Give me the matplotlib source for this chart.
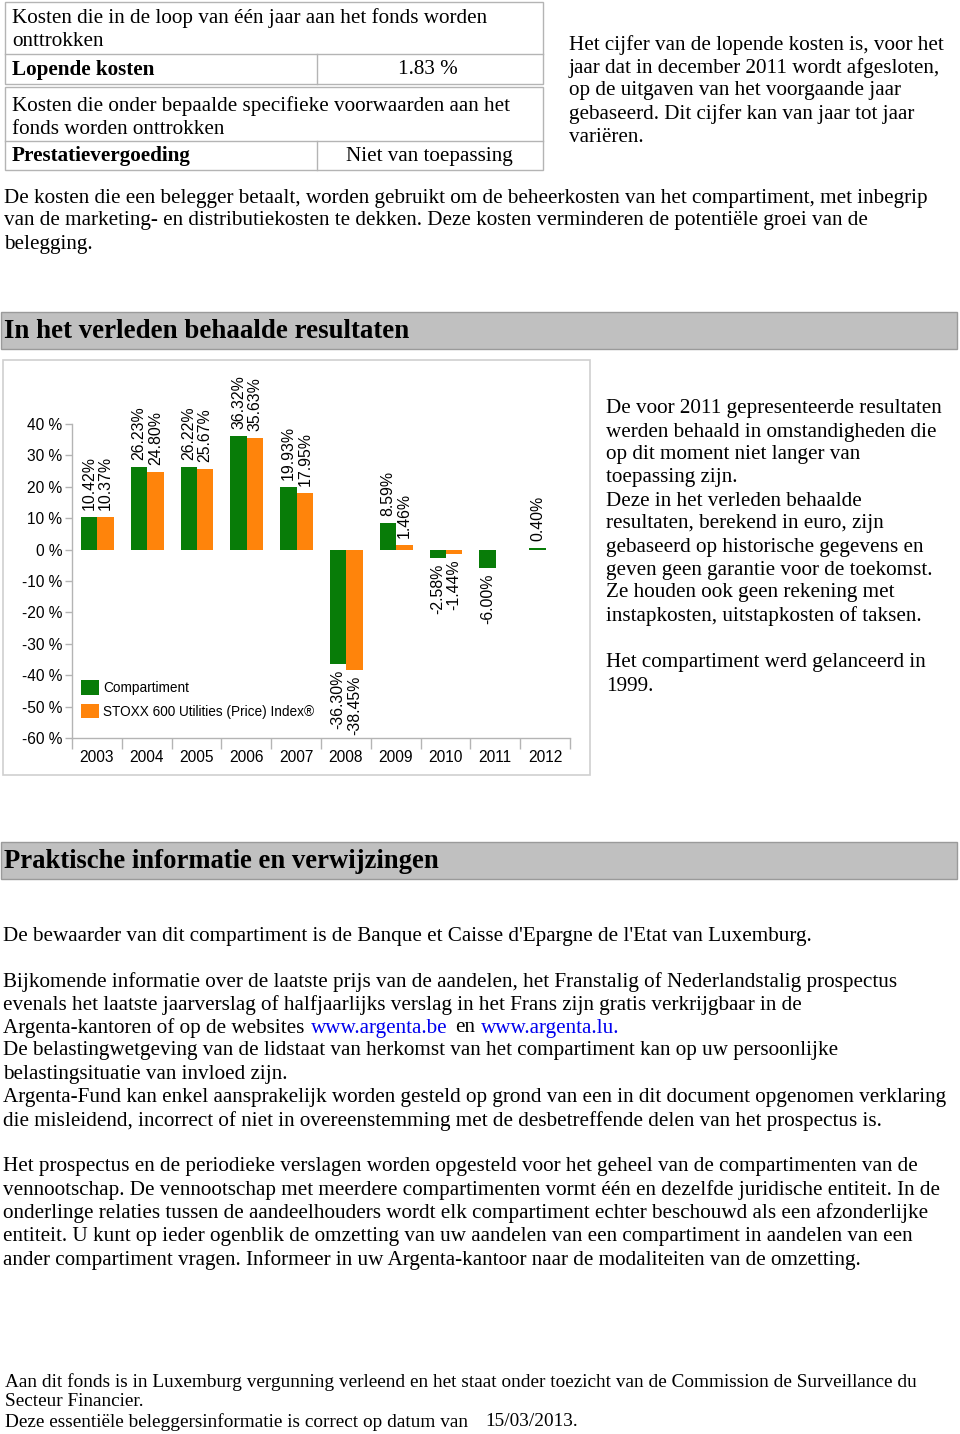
import numpy as np
import matplotlib
matplotlib.use("Agg")
import matplotlib.pyplot as plt
from matplotlib.patches import Rectangle
from matplotlib.lines import Line2D

# ---------------- data ----------------
years = ["2003", "2004", "2005", "2006", "2007", "2008", "2009", "2010", "2011", "2012"]
compartiment = [10.42, 26.23, 26.22, 36.32, 19.93, -36.30, 8.59, -2.58, -6.00, 0.40]
index_vals = [10.37, 24.80, 25.67, 35.63, 17.95, -38.45, 1.46, -1.44, np.nan, np.nan]
series_names = ["Compartiment", "STOXX 600 Utilities (Price) Index®"]
y_ticks = [40, 30, 20, 10, 0, -10, -20, -30, -40, -50, -60]

table_row1 = ["Kosten die in de loop van één jaar aan het fonds worden", "onttrokken"]
table_row2 = ["Lopende kosten", "1.83 %"]
table_row3 = ["Kosten die onder bepaalde specifieke voorwaarden aan het", "fonds worden onttrokken"]
table_row4 = ["Prestatievergoeding", "Niet van toepassing"]
side_note = ["Het cijfer van de lopende kosten is, voor het",
             "jaar dat in december 2011 wordt afgesloten,",
             "op de uitgaven van het voorgaande jaar",
             "gebaseerd. Dit cijfer kan van jaar tot jaar",
             "variëren."]
cost_text = ["De kosten die een belegger betaalt, worden gebruikt om de beheerkosten van het compartiment, met inbegrip",
             "van de marketing- en distributiekosten te dekken. Deze kosten verminderen de potentiële groei van de",
             "belegging."]
heading1 = "In het verleden behaalde resultaten"
heading2 = "Praktische informatie en verwijzingen"
chart_note = ["De voor 2011 gepresenteerde resultaten",
              "werden behaald in omstandigheden die",
              "op dit moment niet langer van",
              "toepassing zijn.",
              "Deze in het verleden behaalde",
              "resultaten, berekend in euro, zijn",
              "gebaseerd op historische gegevens en",
              "geven geen garantie voor de toekomst.",
              "Ze houden ook geen rekening met",
              "instapkosten, uitstapkosten of taksen."]
chart_note2 = ["Het compartiment werd gelanceerd in", "1999."]
practical1 = ["De bewaarder van dit compartiment is de Banque et Caisse d'Epargne de l'Etat van Luxemburg."]
practical2 = ["Bijkomende informatie over de laatste prijs van de aandelen, het Franstalig of Nederlandstalig prospectus",
              "evenals het laatste jaarverslag of halfjaarlijks verslag in het Frans zijn gratis verkrijgbaar in de"]
practical2_link = ["Argenta-kantoren of op de websites", "www.argenta.be", "en", "www.argenta.lu."]
practical3 = ["De belastingwetgeving van de lidstaat van herkomst van het compartiment kan op uw persoonlijke",
              "belastingsituatie van invloed zijn.",
              "Argenta-Fund kan enkel aansprakelijk worden gesteld op grond van een in dit document opgenomen verklaring",
              "die misleidend, incorrect of niet in overeenstemming met de desbetreffende delen van het prospectus is."]
practical4 = ["Het prospectus en de periodieke verslagen worden opgesteld voor het geheel van de compartimenten van de",
              "vennootschap. De vennootschap met meerdere compartimenten vormt één en dezelfde juridische entiteit. In de",
              "onderlinge relaties tussen de aandeelhouders wordt elk compartiment echter beschouwd als een afzonderlijke",
              "entiteit. U kunt op ieder ogenblik de omzetting van uw aandelen van een compartiment in aandelen van een",
              "ander compartiment vragen. Informeer in uw Argenta-kantoor naar de modaliteiten van de omzetting."]
footer = ["Aan dit fonds is in Luxemburg vergunning verleend en het staat onder toezicht van de Commission de Surveillance du",
          "Secteur Financier."]
footer_date = ["Deze essentiële beleggersinformatie is correct op datum van", "15/03/2013."]

# ---------------- figure ----------------
W, H = 960, 1434
fig = plt.figure(figsize=(W / 100, H / 100), dpi=100)
fig.patch.set_facecolor("white")

SERIF = "Liberation Serif"
SANS = "Liberation Sans"
BODY = 15.25
GREEN = "#087c08"
ORANGE = "#ff840b"
GRID = "#b4b4b4"


def fx(x):
    return x / W


def fy(y):
    return 1 - y / H


def T(x, y, s, size=BODY, **kw):
    kw.setdefault("family", SERIF)
    kw.setdefault("va", "center")
    kw.setdefault("ha", "left")
    return fig.text(fx(x), fy(y), s, fontsize=size, **kw)


def rect(x0, y0, x1, y1, **kw):
    r = Rectangle((fx(x0), fy(y1)), (x1 - x0) / W, (y1 - y0) / H, transform=fig.transFigure, **kw)
    fig.add_artist(r)


def hline(x0, x1, y, color=GRID, lw=1):
    fig.add_artist(Line2D([fx(x0), fx(x1)], [fy(y), fy(y)], transform=fig.transFigure, color=color, lw=lw))


def vline(x, y0, y1, color=GRID, lw=1):
    fig.add_artist(Line2D([fx(x), fx(x)], [fy(y0), fy(y1)], transform=fig.transFigure, color=color, lw=lw))


# ---- top table ----
rect(5, 2, 543, 84, fill=False, ec=GRID, lw=1)
hline(5, 543, 54)
vline(317, 54, 84)
T(12, 18, table_row1[0])
T(12, 41, table_row1[1])
T(12, 70, table_row2[0], weight="bold")
T(398, 70, table_row2[1])
rect(5, 87, 543, 170, fill=False, ec=GRID, lw=1)
hline(5, 543, 141)
vline(317, 141, 170)
T(12, 106, table_row3[0])
T(12, 129, table_row3[1])
T(12, 156, table_row4[0], weight="bold")
T(346, 156, table_row4[1])

for i, s in enumerate(side_note):
    T(569, 45 + 23 * i, s)

for i, s in enumerate(cost_text):
    T(4, 198 + 23 * i, s)

# ---- heading 1 ----
rect(1, 312, 957, 349, fc="#c0c0c0", ec="#9a9a9a", lw=1)
T(4, 331, heading1, size=19.4, weight="bold")

# ---- chart frame ----
rect(3, 360, 590, 775, fill=False, ec="#cfcfcf", lw=1.2)

ax = fig.add_axes([fx(72), fy(738), (570 - 72) / W, (738 - 424) / H])
n = len(years)
centers = np.arange(n) + 0.51
bw = 0.33
b1 = ax.bar(centers - bw / 2, compartiment, width=bw, color=GREEN, label=series_names[0], zorder=2)
b2 = ax.bar(centers + bw / 2, index_vals, width=bw, color=ORANGE, label=series_names[1], zorder=2)
ax.set_xlim(0, n)
ax.set_ylim(-60, 40)
for sp in ["top", "right"]:
    ax.spines[sp].set_visible(False)
for sp in ["left", "bottom"]:
    ax.spines[sp].set_color(GRID)
    ax.spines[sp].set_linewidth(1)
ax.set_yticks(y_ticks)
ax.set_yticklabels([f"{v} %" for v in y_ticks], family=SANS, fontsize=11.2)
ax.tick_params(axis="y", length=5, width=1, color=GRID, pad=2)
ax.set_xticks(np.arange(n + 1))
ax.set_xticklabels([])
ax.tick_params(axis="x", which="major", length=8, width=1, color=GRID)
ax.set_xticks(np.arange(n) + 0.5, minor=True)
ax.set_xticklabels(years, minor=True, family=SANS, fontsize=11.2)
ax.tick_params(axis="x", which="minor", length=0, pad=9)
ax.patch.set_alpha(0)

for xs, vals in [(centers - bw / 2, compartiment), (centers + bw / 2, index_vals)]:
    for x, v in zip(xs, vals):
        if np.isnan(v):
            continue
        if v >= 0:
            ax.annotate(f"{v:.2f}%", (x, v), xytext=(0, 5), textcoords="offset points",
                        rotation=90, ha="center", va="bottom", family=SANS, fontsize=11.4,
                        annotation_clip=False)
        else:
            ax.annotate(f"{v:.2f}%", (x, v), xytext=(0, -4), textcoords="offset points",
                        rotation=90, ha="center", va="top", family=SANS, fontsize=11.4,
                        annotation_clip=False)

ax.legend(handles=[b1, b2], loc="lower left", bbox_to_anchor=(0.018, 0.062), frameon=False,
          prop={"family": SANS, "size": 9.8}, handlelength=1.35, handleheight=1.3,
          handletextpad=0.3, labelspacing=0.6, borderpad=0, borderaxespad=0)

for i, s in enumerate(chart_note):
    T(606, 409 + 23 * i, s)
for i, s in enumerate(chart_note2):
    T(606, 663 + 23 * i, s)

# ---- heading 2 ----
rect(1, 842, 957, 879, fc="#c0c0c0", ec="#9a9a9a", lw=1)
T(4, 861, heading2, size=19.2, weight="bold")

T(3, 936, practical1[0])
for i, s in enumerate(practical2):
    T(3, 982 + 23 * i, s)
T(3, 1028, practical2_link[0])
T(311, 1028, practical2_link[1], color="#0000ee")
T(455, 1028, practical2_link[2])
T(481, 1028, practical2_link[3], color="#0000ee")
for i, s in enumerate(practical3):
    T(3, 1051 + 23.3 * i, s)
for i, s in enumerate(practical4):
    T(3, 1167 + 23.2 * i, s)

FOOT = 13.9
for i, s in enumerate(footer):
    T(5, 1382 + 20 * i, s, size=FOOT)
T(5, 1422, footer_date[0], size=FOOT)
T(485, 1422, footer_date[1], size=FOOT)

fig.savefig("out.png", dpi=100)
